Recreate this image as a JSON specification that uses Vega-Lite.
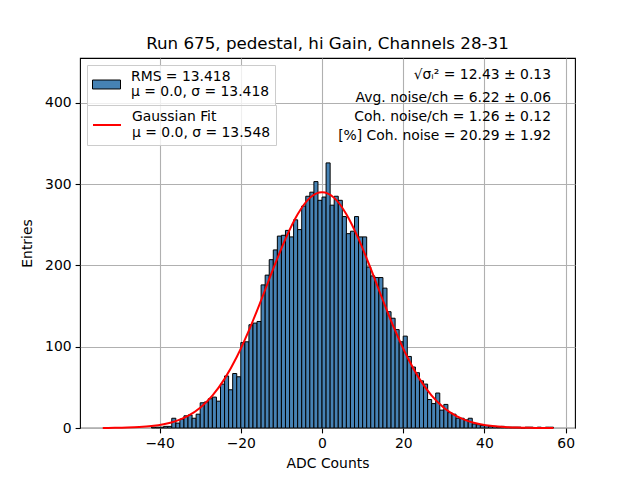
{
  "$schema": "https://vega.github.io/schema/vega-lite/v6.json",
  "width": 495,
  "height": 370,
  "autosize": {"type": "none"},
  "padding": {"left": 80, "top": 58, "right": 65, "bottom": 52},
  "background": "white",
  "title": {
    "text": "Run 675, pedestal, hi Gain, Channels 28-31",
    "font": "DejaVu Sans",
    "fontSize": 16.7,
    "fontWeight": "normal",
    "color": "black",
    "offset": 5
  },
  "config": {
    "font": "DejaVu Sans",
    "view": {"stroke": "black", "strokeWidth": 1.1},
    "axis": {
      "labelFont": "DejaVu Sans",
      "labelFontSize": 13.9,
      "labelColor": "black",
      "titleFont": "DejaVu Sans",
      "titleFontSize": 13.9,
      "titleFontWeight": "normal",
      "titleColor": "black",
      "tickColor": "black",
      "tickSize": 4.9,
      "tickWidth": 1.1,
      "labelPadding": 4,
      "domain": false,
      "grid": true,
      "gridColor": "#b0b0b0",
      "gridWidth": 1.1,
      "zindex": 1
    },
    "legend": {
      "orient": "top-left",
      "offset": 7,
      "padding": 5,
      "fillColor": "rgba(255,255,255,0.8)",
      "strokeColor": "#cccccc",
      "labelFont": "DejaVu Sans",
      "labelFontSize": 13.9,
      "labelColor": "black",
      "labelBaseline": "line-bottom",
      "labelLimit": 400,
      "labelOffset": 10,
      "symbolSize": 784,
      "symbolOpacity": 1,
      "layout": {"top-left": {"direction": "vertical", "margin": -6}}
    }
  },
  "datasets": {
    "hist": [
      {"lo": -42, "hi": -41, "n": 1}, {"lo": -41, "hi": -40, "n": 1}, {"lo": -40, "hi": -39, "n": 1},
      {"lo": -39, "hi": -38, "n": 2}, {"lo": -38, "hi": -37, "n": 2}, {"lo": -37, "hi": -36, "n": 12},
      {"lo": -36, "hi": -35, "n": 6}, {"lo": -35, "hi": -34, "n": 11}, {"lo": -34, "hi": -33, "n": 15},
      {"lo": -33, "hi": -32, "n": 16}, {"lo": -32, "hi": -31, "n": 12}, {"lo": -31, "hi": -30, "n": 17},
      {"lo": -30, "hi": -29, "n": 31}, {"lo": -29, "hi": -28, "n": 32}, {"lo": -28, "hi": -27, "n": 36},
      {"lo": -27, "hi": -26, "n": 38}, {"lo": -26, "hi": -25, "n": 33}, {"lo": -25, "hi": -24, "n": 54},
      {"lo": -24, "hi": -23, "n": 64}, {"lo": -23, "hi": -22, "n": 47}, {"lo": -22, "hi": -21, "n": 67},
      {"lo": -21, "hi": -20, "n": 63}, {"lo": -20, "hi": -19, "n": 105}, {"lo": -19, "hi": -18, "n": 106},
      {"lo": -18, "hi": -17, "n": 127}, {"lo": -17, "hi": -16, "n": 129}, {"lo": -16, "hi": -15, "n": 131},
      {"lo": -15, "hi": -14, "n": 176}, {"lo": -14, "hi": -13, "n": 188}, {"lo": -13, "hi": -12, "n": 207},
      {"lo": -12, "hi": -11, "n": 219}, {"lo": -11, "hi": -10, "n": 236}, {"lo": -10, "hi": -9, "n": 237},
      {"lo": -9, "hi": -8, "n": 243}, {"lo": -8, "hi": -7, "n": 235}, {"lo": -7, "hi": -6, "n": 256},
      {"lo": -6, "hi": -5, "n": 244}, {"lo": -5, "hi": -4, "n": 273}, {"lo": -4, "hi": -3, "n": 285},
      {"lo": -3, "hi": -2, "n": 290}, {"lo": -2, "hi": -1, "n": 303}, {"lo": -1, "hi": 0, "n": 280},
      {"lo": 0, "hi": 1, "n": 284}, {"lo": 1, "hi": 2, "n": 326}, {"lo": 2, "hi": 3, "n": 274},
      {"lo": 3, "hi": 4, "n": 285}, {"lo": 4, "hi": 5, "n": 280}, {"lo": 5, "hi": 6, "n": 260},
      {"lo": 6, "hi": 7, "n": 239}, {"lo": 7, "hi": 8, "n": 242}, {"lo": 8, "hi": 9, "n": 260},
      {"lo": 9, "hi": 10, "n": 235}, {"lo": 10, "hi": 11, "n": 235}, {"lo": 11, "hi": 12, "n": 198},
      {"lo": 12, "hi": 13, "n": 187}, {"lo": 13, "hi": 14, "n": 185}, {"lo": 14, "hi": 15, "n": 185},
      {"lo": 15, "hi": 16, "n": 172}, {"lo": 16, "hi": 17, "n": 143}, {"lo": 17, "hi": 18, "n": 135},
      {"lo": 18, "hi": 19, "n": 121}, {"lo": 19, "hi": 20, "n": 106}, {"lo": 20, "hi": 21, "n": 113},
      {"lo": 21, "hi": 22, "n": 88}, {"lo": 22, "hi": 23, "n": 75}, {"lo": 23, "hi": 24, "n": 68},
      {"lo": 24, "hi": 25, "n": 58}, {"lo": 25, "hi": 26, "n": 54}, {"lo": 26, "hi": 27, "n": 35},
      {"lo": 27, "hi": 28, "n": 30}, {"lo": 28, "hi": 29, "n": 43}, {"lo": 29, "hi": 30, "n": 22},
      {"lo": 30, "hi": 31, "n": 29}, {"lo": 31, "hi": 32, "n": 19}, {"lo": 32, "hi": 33, "n": 17},
      {"lo": 33, "hi": 34, "n": 12}, {"lo": 34, "hi": 35, "n": 12}, {"lo": 35, "hi": 36, "n": 10},
      {"lo": 36, "hi": 37, "n": 12}, {"lo": 37, "hi": 38, "n": 5}, {"lo": 38, "hi": 39, "n": 4},
      {"lo": 39, "hi": 40, "n": 3}, {"lo": 40, "hi": 41, "n": 3}, {"lo": 41, "hi": 42, "n": 2},
      {"lo": 42, "hi": 43, "n": 2}, {"lo": 43, "hi": 44, "n": 1}, {"lo": 44, "hi": 45, "n": 2},
      {"lo": 45, "hi": 46, "n": 1}, {"lo": 46, "hi": 47, "n": 1}, {"lo": 47, "hi": 48, "n": 1},
      {"lo": 48, "hi": 49, "n": 1}, {"lo": 49, "hi": 50, "n": 0}, {"lo": 50, "hi": 51, "n": 1},
      {"lo": 51, "hi": 52, "n": 1}, {"lo": 52, "hi": 53, "n": 0}, {"lo": 53, "hi": 54, "n": 1},
      {"lo": 54, "hi": 55, "n": 0}, {"lo": 55, "hi": 56, "n": 1}, {"lo": 56, "hi": 57, "n": 1}
    ],
    "fit": [
      {"x": -54, "fit": 0.1}, {"x": -51, "fit": 0.24}, {"x": -48, "fit": 0.55}, {"x": -45, "fit": 1.17},
      {"x": -42, "fit": 2.37}, {"x": -39, "fit": 4.6}, {"x": -36, "fit": 8.5}, {"x": -33, "fit": 14.9},
      {"x": -30, "fit": 25.0}, {"x": -27, "fit": 39.8}, {"x": -24, "fit": 60.4}, {"x": -21, "fit": 87.3},
      {"x": -18, "fit": 120.0}, {"x": -15, "fit": 157.1}, {"x": -12, "fit": 195.9}, {"x": -9, "fit": 232.6},
      {"x": -6, "fit": 262.9}, {"x": -3, "fit": 283.0}, {"x": 0, "fit": 290.0}, {"x": 3, "fit": 283.0},
      {"x": 6, "fit": 262.9}, {"x": 9, "fit": 232.6}, {"x": 12, "fit": 195.9}, {"x": 15, "fit": 157.1},
      {"x": 18, "fit": 120.0}, {"x": 21, "fit": 87.3}, {"x": 24, "fit": 60.4}, {"x": 27, "fit": 39.8},
      {"x": 30, "fit": 25.0}, {"x": 33, "fit": 14.9}, {"x": 36, "fit": 8.5}, {"x": 39, "fit": 4.6},
      {"x": 42, "fit": 2.37}, {"x": 45, "fit": 1.17}, {"x": 48, "fit": 0.55}, {"x": 51, "fit": 0.24},
      {"x": 54, "fit": 0.1}, {"x": 57, "fit": 0.04}
    ]
  },
  "layer": [
    {
      "data": {"name": "hist"},
      "mark": {"type": "bar", "stroke": "black", "strokeWidth": 1},
      "encoding": {
        "x": {
          "field": "lo",
          "type": "quantitative",
          "title": "ADC Counts",
          "scale": {"domain": [-59.6, 62.3], "nice": false, "zero": false},
          "axis": {"values": [-40, -20, 0, 20, 40, 60], "titlePadding": 6}
        },
        "x2": {"field": "hi"},
        "y": {
          "field": "n",
          "type": "quantitative",
          "title": "Entries",
          "scale": {"domain": [0, 455], "nice": false},
          "axis": {"values": [0, 100, 200, 300, 400], "titlePadding": 10}
        },
        "y2": {"datum": 0},
        "fill": {
          "datum": "RMS = 13.418|μ = 0.0, σ = 13.418",
          "type": "nominal",
          "scale": {"range": ["#4682b4"]},
          "legend": {
            "title": null,
            "labelExpr": "split(datum.label, '|')",
            "symbolType": "M-1,-0.32H1V0.32H-1Z",
            "symbolStrokeColor": "black",
            "symbolStrokeWidth": 1,
            "symbolFillColor": "#4682b4"
          }
        }
      }
    },
    {
      "data": {"name": "fit"},
      "mark": {"type": "line", "strokeWidth": 2, "interpolate": "monotone"},
      "encoding": {
        "x": {"field": "x", "type": "quantitative"},
        "y": {"field": "fit", "type": "quantitative"},
        "stroke": {
          "datum": "Gaussian Fit|μ = 0.0, σ = 13.548",
          "type": "nominal",
          "scale": {"range": ["red"]},
          "legend": {
            "title": null,
            "labelExpr": "split(datum.label, '|')",
            "symbolType": "stroke",
            "symbolStrokeWidth": 2
          }
        }
      }
    },
    {
      "data": {"values": [{}]},
      "mark": {"type": "text", "align": "right", "baseline": "alphabetic", "font": "DejaVu Sans", "fontSize": 13.9, "color": "black"},
      "encoding": {
        "x": {"datum": 56.4, "type": "quantitative"},
        "y": {"datum": 429, "type": "quantitative"},
        "text": {"value": "√σᵢ² = 12.43 ± 0.13"}
      }
    },
    {
      "data": {"values": [{}]},
      "mark": {"type": "text", "align": "right", "baseline": "alphabetic", "font": "DejaVu Sans", "fontSize": 13.9, "color": "black", "lineHeight": 19},
      "encoding": {
        "x": {"datum": 56.4, "type": "quantitative"},
        "y": {"datum": 401, "type": "quantitative"},
        "text": {"value": ["Avg. noise/ch = 6.22 ± 0.06", "Coh. noise/ch = 1.26 ± 0.12", "[%] Coh. noise = 20.29 ± 1.92"]}
      }
    }
  ]
}
